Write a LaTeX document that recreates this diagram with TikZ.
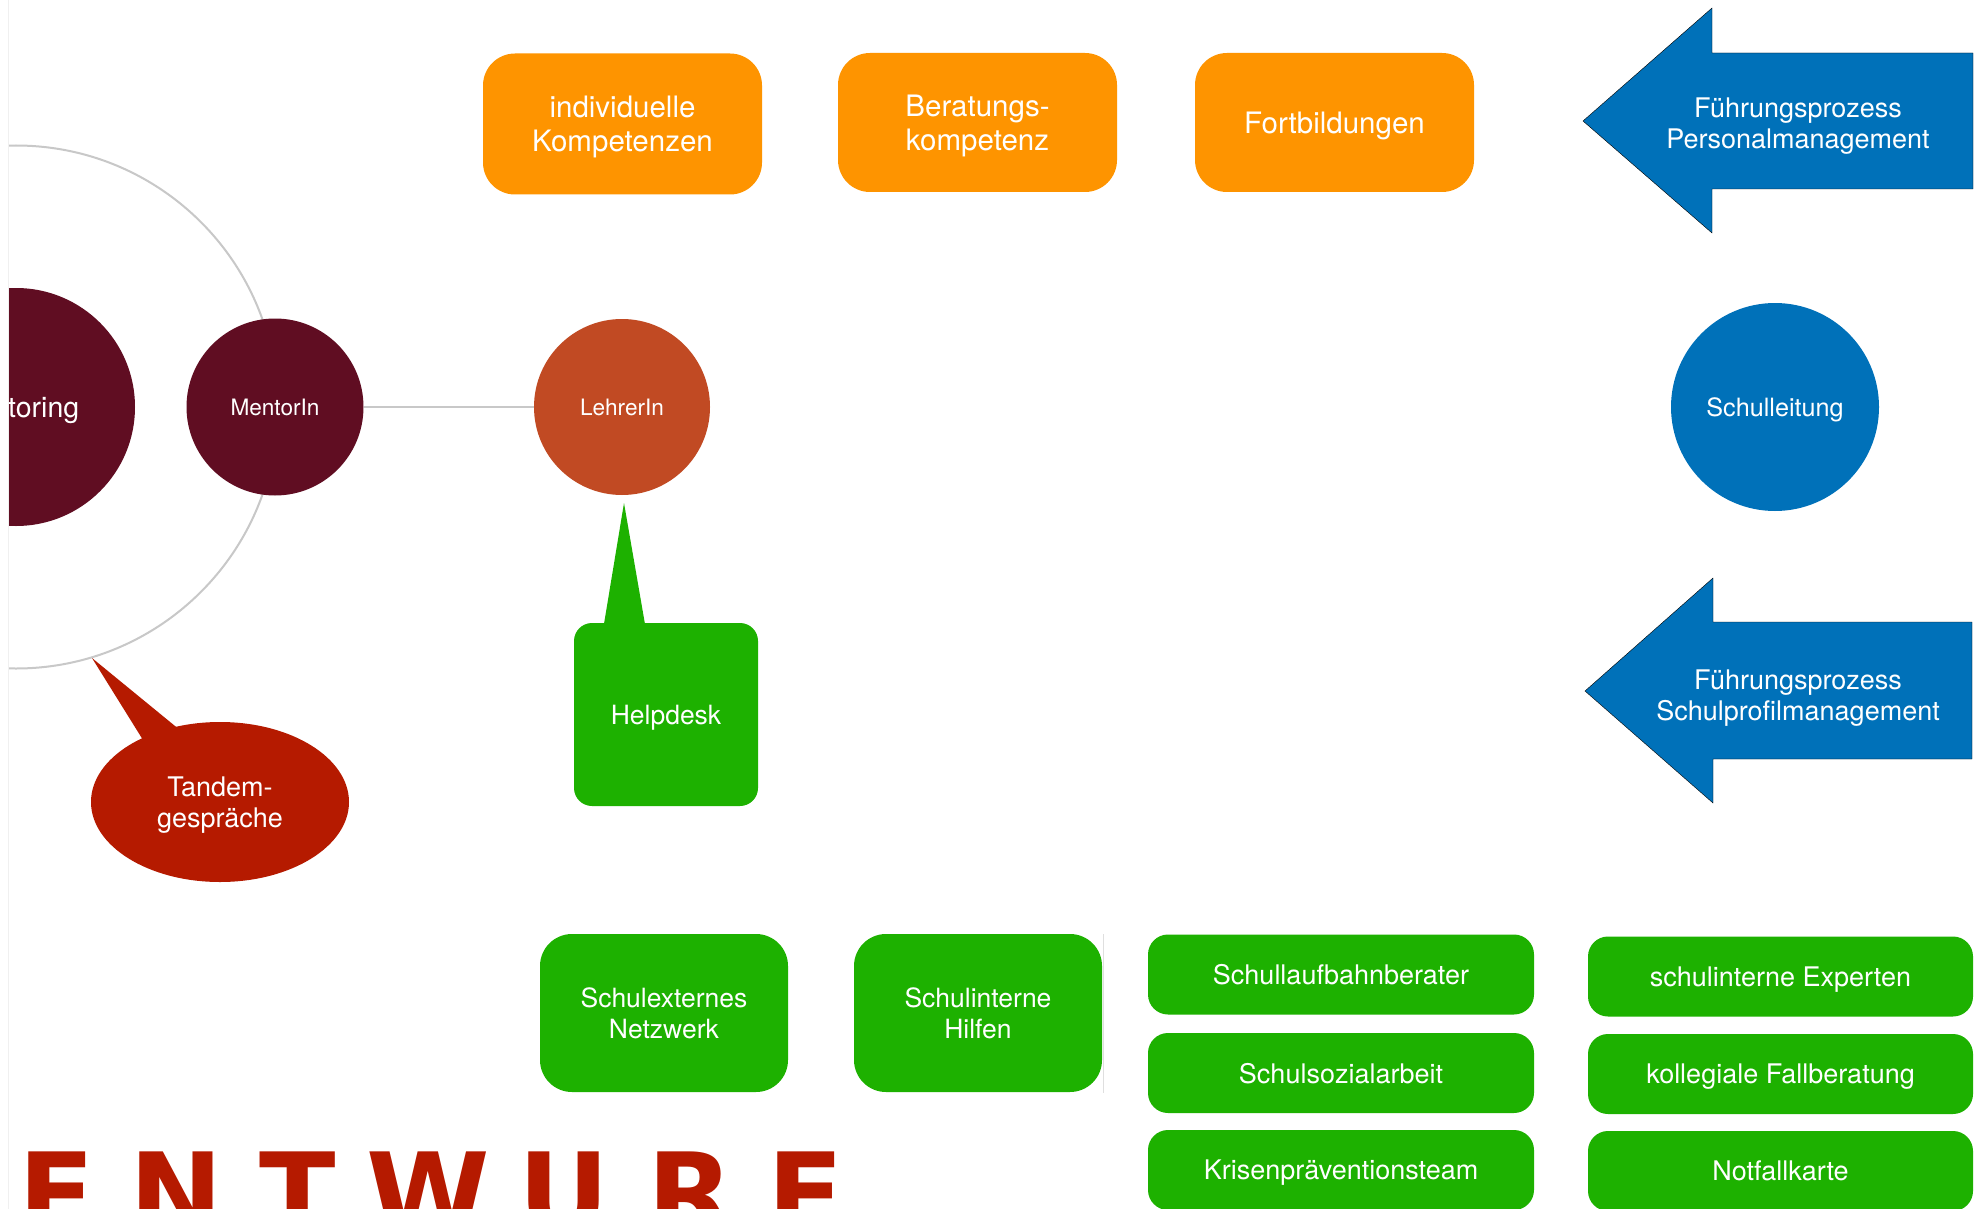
\documentclass[tikz,border=0pt]{standalone}
\usepackage{fontspec}
\setmainfont{TeX Gyre Heros}
\newfontfamily\stampfont{DejaVu Sans}
\usetikzlibrary{shapes.geometric}

\definecolor{korange}{RGB}{254,148,0}
\definecolor{kgreen}{RGB}{29,177,0}
\definecolor{kblue}{RGB}{0,113,185}
\definecolor{kmaroon}{RGB}{96,13,34}
\definecolor{krust}{RGB}{193,74,35}
\definecolor{kred}{RGB}{181,26,0}
\definecolor{kgrey}{RGB}{200,200,200}

\tikzset{
  lbl/.style={text=white, align=center, inner sep=0pt, outer sep=0pt, text depth=0pt},
  obox/.style={lbl, fill=korange, rounded corners=32pt, minimum width=279pt,
    font=\fontsize{29.5}{34}\selectfont},
  gbig/.style={lbl, fill=kgreen, rounded corners=32pt, minimum width=248pt,
    minimum height=158pt, font=\fontsize{26.5}{31.5}\selectfont},
  gsmall/.style={lbl, fill=kgreen, rounded corners=20pt, minimum height=80pt,
    font=\fontsize{27}{31}\selectfont},
  person/.style={lbl, circle, font=\fontsize{22.6}{26}\selectfont},
  link/.style={draw=kgrey, line width=2pt},
  procarrow/.style={fill=kblue},
  proclbl/.style={lbl, font=\fontsize{27}{31.5}\selectfont},
}

\begin{document}
\begin{tikzpicture}[x=1pt,y=-1pt]
\useasboundingbox (0,0) rectangle (1975,1209);
\fill[white] (0,0) rectangle (1975,1209);

\begin{scope}
\clip (9,0) rectangle (1975,1209);

% mentoring cluster
\coordinate (hub) at (16,407);
\draw[link] (hub) circle[radius=261.5pt];
\node[person, fill=kmaroon, minimum size=238pt, font=\fontsize{28.5}{32}\selectfont]
  (mentoring) at (hub) {Mentoring};
\node[person, fill=kmaroon, minimum size=177pt] (mentor) at (275,407) {MentorIn};
\node[person, fill=krust, minimum size=176pt] (lehrer) at (622,407) {LehrerIn};
\draw[link] (mentor) -- (lehrer);

% speech bubble: Tandemgespräche
\coordinate (tandtip) at (92,658);
\fill[kred] (tandtip) -- (148,748) -- (186,735) -- cycle;
\node[lbl, ellipse, fill=kred, minimum width=258pt, minimum height=160pt,
  font=\fontsize{27}{31.5}\selectfont] (tandem) at (220,802) {Tandem-\\gespräche};

% speech bubble: Helpdesk
\coordinate (helptip) at (624,503);
\fill[kgreen] (helptip) -- (603,630) -- (646,630) -- cycle;
\node[lbl, fill=kgreen, rounded corners=18pt, minimum width=184pt, minimum height=183pt,
  font=\fontsize{26.5}{31}\selectfont] (helpdesk) at (666,714.5) {Helpdesk};

% competence boxes
\node[obox, minimum height=141pt] (indiv) at (622.5,124) {individuelle\\Kompetenzen};
\node[obox, minimum height=139pt] (berat) at (977.5,122.5) {Beratungs-\\kompetenz};
\node[obox, minimum height=139pt] (fortb) at (1334.5,122.5) {Fortbildungen};

% leadership processes
\draw[procarrow] (1583,121) -- (1712,8) -- (1712,53) -- (1973,53) -- (1973,189)
  -- (1712,189) -- (1712,233) -- cycle;
\node[proclbl] (perslbl) at (1798,123) {Führungsprozess\\Personalmanagement};
\node[person, fill=kblue, minimum size=208pt, font=\fontsize{25.2}{29}\selectfont]
  (leitung) at (1775,407) {Schulleitung};
\draw[procarrow] (1585,691) -- (1713,578) -- (1713,622) -- (1972,622) -- (1972,759)
  -- (1713,759) -- (1713,803) -- cycle;
\node[proclbl] (proflbl) at (1798,695) {Führungsprozess\\Schulprofilmanagement};

% support network
\node[gbig] (extern) at (664,1013) {Schulexternes\\Netzwerk};
\node[gbig] (intern) at (978,1013) {Schulinterne\\Hilfen};
\draw[gray!25, line width=1pt] (1103,934) -- (1103,1093);

\node[gsmall, minimum width=386pt] (laufbahn) at (1341,974.5) {Schullaufbahnberater};
\node[gsmall, minimum width=386pt] (sozial) at (1341,1073) {Schulsozialarbeit};
\node[gsmall, minimum width=386pt] (krise) at (1341,1170) {Krisenpräventionsteam};
\node[gsmall, minimum width=385pt] (experten) at (1780.5,976.5) {schulinterne Experten};
\node[gsmall, minimum width=385pt] (fallber) at (1780.5,1074) {kollegiale Fallberatung};
\node[gsmall, minimum width=385pt] (notfall) at (1780.5,1171) {Notfallkarte};

% draft stamp
\node[anchor=base west, inner sep=0pt, text=kred,
  font=\stampfont\bfseries\fontsize{112}{112}\selectfont] (entwurf) at (-5,1233)
  {\makebox[124pt]{E}\makebox[114pt]{N}\makebox[130pt]{T}\makebox[130pt]{W}\makebox[142pt]{U}\makebox[110pt]{R}\makebox[122pt]{F}};
\end{scope}

\draw[gray!12, line width=1pt] (8.5,0) -- (8.5,1209);
\end{tikzpicture}
\end{document}
